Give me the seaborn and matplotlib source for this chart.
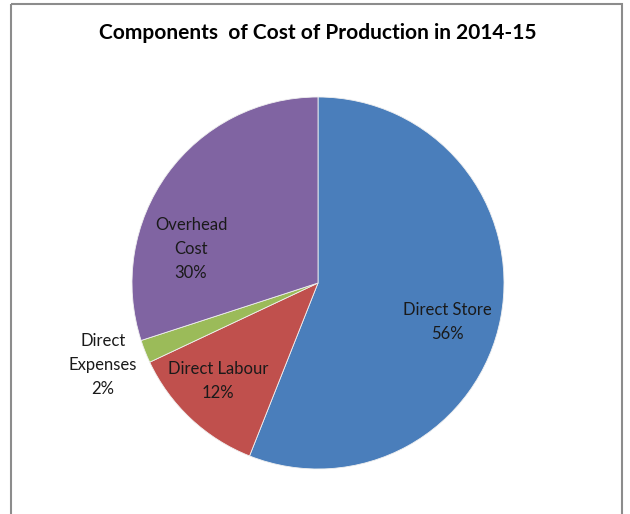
import matplotlib
matplotlib.use("Agg")
import matplotlib.pyplot as plt
import seaborn as sns
from matplotlib.patches import Rectangle

sns.set_theme(style="white")
plt.rcParams['font.family'] = ['Lato', 'DejaVu Sans']

categories = ["Direct Store", "Direct Labour", "Direct Expenses", "Overhead Cost"]
values = [56, 12, 2, 30]
colors = ["#4A7EBB", "#C0504D", "#9BBB59", "#8064A2"]
label_texts = ["Direct Store\n56%", "Direct Labour\n12%", "Direct\nExpenses\n2%", "Overhead\nCost\n30%"]
label_pos = [(447, 322), (218, 381), (103, 365), (191, 249)]
title = "Components  of Cost of Production in 2014-15"

W, H = 630, 514
fig = plt.figure(figsize=(W / 100, H / 100), dpi=100)
ax = fig.add_axes([0, 0, 1, 1])
ax.set_xlim(0, W)
ax.set_ylim(H, 0)
ax.axis("off")

# chart frame
ax.add_patch(Rectangle((10.5, 3.5), 611.5, 540, fill=False, edgecolor="#8c8c8c", linewidth=1.5, zorder=0))

wedges, _ = ax.pie(values, colors=colors, startangle=-90, counterclock=True,
                   center=(318, 283), radius=186, frame=True,
                   wedgeprops=dict(linewidth=0.6, edgecolor="#f0f0f0"))
ax.set_xlim(0, W)
ax.set_ylim(H, 0)
ax.set_aspect("equal")
ax.axis("off")

for txt, (x, y) in zip(label_texts, label_pos):
    ax.text(x, y, txt, ha="center", va="center", fontsize=12, color="#1a1a1a", linespacing=1.62)

ax.text(318, 33, title, ha="center", va="center", fontsize=15, fontweight="bold", color="#000000")

fig.savefig("out.png", dpi=100, facecolor="white")
